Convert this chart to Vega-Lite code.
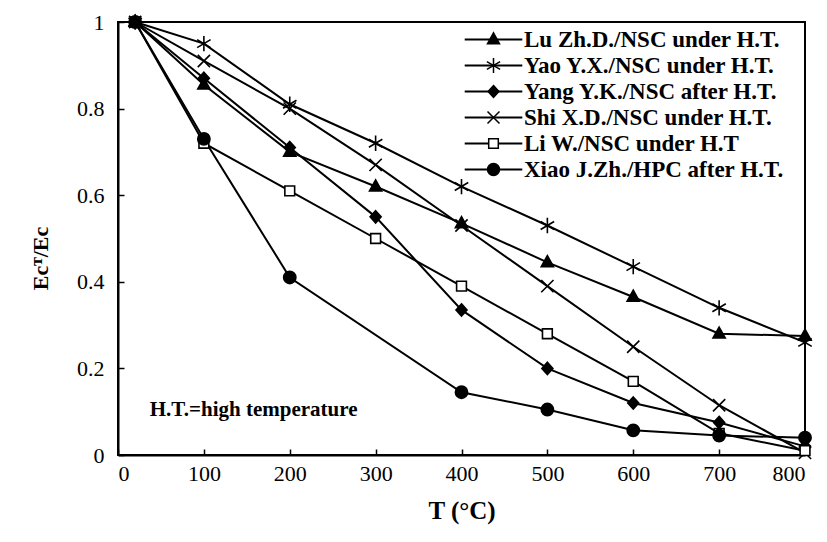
{
  "$schema": "https://vega.github.io/schema/vega-lite/v6.json",
  "width": 687,
  "height": 433,
  "autosize": "none",
  "padding": {"left": 118, "top": 22, "right": 22, "bottom": 87},
  "background": "white",
  "config": {
    "view": {"stroke": "black", "strokeWidth": 2},
    "font": "Liberation Serif",
    "axis": {
      "grid": false,
      "domainColor": "black",
      "domainWidth": 2,
      "tickColor": "black",
      "tickSize": -6,
      "tickWidth": 1.5,
      "labelFont": "Liberation Serif",
      "labelFontSize": 22,
      "labelColor": "black",
      "titleFont": "Liberation Serif",
      "titleColor": "black"
    }
  },
  "datasets": {
    "curves": [
      {"series": "Lu Zh.D./NSC under H.T.", "T": 20, "E": 1},
      {"series": "Lu Zh.D./NSC under H.T.", "T": 100, "E": 0.855},
      {"series": "Lu Zh.D./NSC under H.T.", "T": 200, "E": 0.70},
      {"series": "Lu Zh.D./NSC under H.T.", "T": 300, "E": 0.62},
      {"series": "Lu Zh.D./NSC under H.T.", "T": 400, "E": 0.535},
      {"series": "Lu Zh.D./NSC under H.T.", "T": 500, "E": 0.445},
      {"series": "Lu Zh.D./NSC under H.T.", "T": 600, "E": 0.365},
      {"series": "Lu Zh.D./NSC under H.T.", "T": 700, "E": 0.28},
      {"series": "Lu Zh.D./NSC under H.T.", "T": 800, "E": 0.275},
      {"series": "Yao Y.X./NSC under H.T.", "T": 20, "E": 1},
      {"series": "Yao Y.X./NSC under H.T.", "T": 100, "E": 0.95},
      {"series": "Yao Y.X./NSC under H.T.", "T": 200, "E": 0.81},
      {"series": "Yao Y.X./NSC under H.T.", "T": 300, "E": 0.72},
      {"series": "Yao Y.X./NSC under H.T.", "T": 400, "E": 0.62},
      {"series": "Yao Y.X./NSC under H.T.", "T": 500, "E": 0.53},
      {"series": "Yao Y.X./NSC under H.T.", "T": 600, "E": 0.435},
      {"series": "Yao Y.X./NSC under H.T.", "T": 700, "E": 0.34},
      {"series": "Yao Y.X./NSC under H.T.", "T": 800, "E": 0.26},
      {"series": "Yang Y.K./NSC after H.T.", "T": 20, "E": 1},
      {"series": "Yang Y.K./NSC after H.T.", "T": 100, "E": 0.87},
      {"series": "Yang Y.K./NSC after H.T.", "T": 200, "E": 0.71},
      {"series": "Yang Y.K./NSC after H.T.", "T": 300, "E": 0.55},
      {"series": "Yang Y.K./NSC after H.T.", "T": 400, "E": 0.335},
      {"series": "Yang Y.K./NSC after H.T.", "T": 500, "E": 0.20},
      {"series": "Yang Y.K./NSC after H.T.", "T": 600, "E": 0.12},
      {"series": "Yang Y.K./NSC after H.T.", "T": 700, "E": 0.075},
      {"series": "Yang Y.K./NSC after H.T.", "T": 800, "E": 0.02},
      {"series": "Shi X.D./NSC under H.T.", "T": 20, "E": 1},
      {"series": "Shi X.D./NSC under H.T.", "T": 100, "E": 0.91},
      {"series": "Shi X.D./NSC under H.T.", "T": 200, "E": 0.80},
      {"series": "Shi X.D./NSC under H.T.", "T": 300, "E": 0.67},
      {"series": "Shi X.D./NSC under H.T.", "T": 400, "E": 0.53},
      {"series": "Shi X.D./NSC under H.T.", "T": 500, "E": 0.39},
      {"series": "Shi X.D./NSC under H.T.", "T": 600, "E": 0.25},
      {"series": "Shi X.D./NSC under H.T.", "T": 700, "E": 0.115},
      {"series": "Shi X.D./NSC under H.T.", "T": 800, "E": 0.005},
      {"series": "Li W./NSC under H.T", "T": 20, "E": 1},
      {"series": "Li W./NSC under H.T", "T": 100, "E": 0.72},
      {"series": "Li W./NSC under H.T", "T": 200, "E": 0.61},
      {"series": "Li W./NSC under H.T", "T": 300, "E": 0.50},
      {"series": "Li W./NSC under H.T", "T": 400, "E": 0.39},
      {"series": "Li W./NSC under H.T", "T": 500, "E": 0.28},
      {"series": "Li W./NSC under H.T", "T": 600, "E": 0.17},
      {"series": "Li W./NSC under H.T", "T": 700, "E": 0.05},
      {"series": "Li W./NSC under H.T", "T": 800, "E": 0.01},
      {"series": "Xiao J.Zh./HPC after H.T.", "T": 20, "E": 1},
      {"series": "Xiao J.Zh./HPC after H.T.", "T": 100, "E": 0.73},
      {"series": "Xiao J.Zh./HPC after H.T.", "T": 200, "E": 0.41},
      {"series": "Xiao J.Zh./HPC after H.T.", "T": 400, "E": 0.145},
      {"series": "Xiao J.Zh./HPC after H.T.", "T": 500, "E": 0.105},
      {"series": "Xiao J.Zh./HPC after H.T.", "T": 600, "E": 0.057},
      {"series": "Xiao J.Zh./HPC after H.T.", "T": 700, "E": 0.045},
      {"series": "Xiao J.Zh./HPC after H.T.", "T": 800, "E": 0.04}
    ],
    "note": [
      {"T": 37, "E": 0.104, "label": "H.T.=high temperature"}
    ]
  },
  "layer": [
    {
      "data": {"name": "curves"},
      "mark": {"type": "line", "strokeWidth": 2},
      "encoding": {
        "x": {
          "field": "T", "type": "quantitative",
          "scale": {"domain": [0, 800], "nice": false},
          "axis": {"values": [0, 100, 200, 300, 400, 500, 600, 700, 800], "format": "d", "labelPadding": 14, "title": "T (°C)", "titleFontSize": 25, "titleFontWeight": "bold", "titlePadding": 14}
        },
        "y": {
          "field": "E", "type": "quantitative",
          "scale": {"domain": [0, 1], "nice": false},
          "axis": {"values": [0, 0.2, 0.4, 0.6, 0.8, 1], "format": "~g", "labelPadding": 20, "title": "Ecᵀ/Ec", "titleFontSize": 22, "titleFontWeight": "bold", "titlePadding": 24, "titleY": 236}
        },
        "color": {
          "field": "series", "type": "nominal",
          "sort": ["Lu Zh.D./NSC under H.T.", "Yao Y.X./NSC under H.T.", "Yang Y.K./NSC after H.T.", "Shi X.D./NSC under H.T.", "Li W./NSC under H.T", "Xiao J.Zh./HPC after H.T."],
          "scale": {"range": ["black", "black", "black", "black", "black", "black"]},
          "legend": {
            "title": null,
            "orient": "none",
            "legendX": 364,
            "legendY": 6,
            "symbolType": "M-4.8,0L4.8,0",
            "symbolSize": 144,
            "symbolStrokeWidth": 2,
            "labelFont": "Liberation Serif",
            "labelFontSize": 23,
            "labelFontWeight": "bold",
            "labelColor": "transparent",
            "labelOffset": 19,
            "rowPadding": 2,
            "labelLimit": 400
          }
        }
      }
    },
    {
      "data": {"name": "curves"},
      "mark": {"type": "point", "filled": true, "stroke": "black", "strokeWidth": 1.6, "size": 150, "opacity": 1},
      "encoding": {
        "x": {"field": "T", "type": "quantitative"},
        "y": {"field": "E", "type": "quantitative"},
        "fill": {
          "field": "series", "type": "nominal",
          "scale": {
            "domain": ["Lu Zh.D./NSC under H.T.", "Yao Y.X./NSC under H.T.", "Yang Y.K./NSC after H.T.", "Shi X.D./NSC under H.T.", "Li W./NSC under H.T", "Xiao J.Zh./HPC after H.T."],
            "range": ["black", "transparent", "black", "transparent", "white", "black"]
          },
          "legend": null
        },
        "shape": {
          "field": "series", "type": "nominal",
          "scale": {
            "domain": ["Lu Zh.D./NSC under H.T.", "Yao Y.X./NSC under H.T.", "Yang Y.K./NSC after H.T.", "Shi X.D./NSC under H.T.", "Li W./NSC under H.T", "Xiao J.Zh./HPC after H.T."],
            "range": [
              "M0,-1.1L1,0.7L-1,0.7Z",
              "M0,-1.25L0,1.25M-1.1,-0.65L1.1,0.65M-1.1,0.65L1.1,-0.65",
              "M0,-1L0.9,0L0,1L-0.9,0Z",
              "M-1,-1L1,1M-1,1L1,-1",
              "M-0.8,-0.8L0.8,-0.8L0.8,0.8L-0.8,0.8Z",
              "circle"
            ]
          },
          "legend": {
            "title": null,
            "orient": "none",
            "legendX": 364,
            "legendY": 6,
            "symbolSize": 144,
            "labelFont": "Liberation Serif",
            "labelFontSize": 23,
            "labelFontWeight": "bold",
            "labelColor": "black",
            "labelOffset": 19,
            "rowPadding": 2,
            "labelLimit": 400
          }
        }
      }
    },
    {
      "data": {"name": "note"},
      "mark": {"type": "text", "align": "left", "baseline": "middle", "fontSize": 21, "fontWeight": "bold", "font": "Liberation Serif", "color": "black"},
      "encoding": {
        "x": {"field": "T", "type": "quantitative"},
        "y": {"field": "E", "type": "quantitative"},
        "text": {"field": "label"}
      }
    }
  ]
}
